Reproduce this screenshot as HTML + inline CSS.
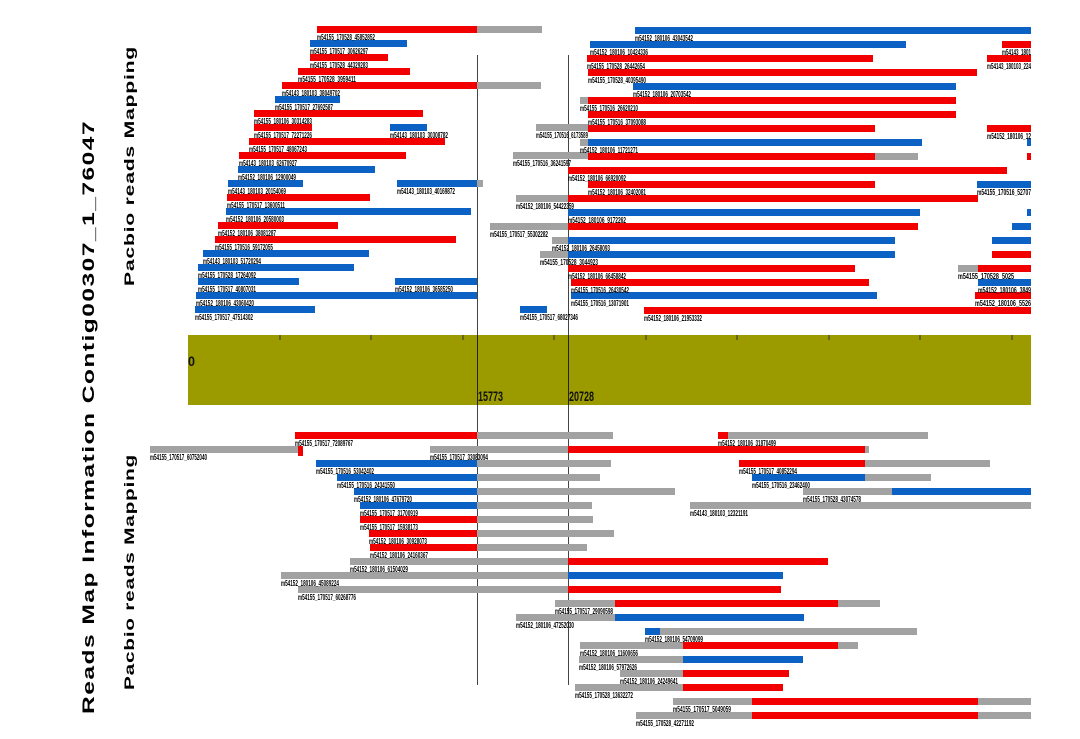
<!DOCTYPE html>
<html><head><meta charset="utf-8"><style>
html,body{margin:0;padding:0;background:#fff;}
svg{display:block}
.r{fill:#f20000}.b{fill:#0b62c4}.g{fill:#a2a2a2}
text.l{font-family:"Liberation Sans",sans-serif;font-size:8px;font-weight:bold;fill:#000}
</style></head><body>
<svg width="1080" height="739" viewBox="0 0 1080 739" xmlns="http://www.w3.org/2000/svg">
<text transform="translate(94,417) rotate(-90)" text-anchor="middle" font-family="Liberation Sans,sans-serif" font-weight="bold" font-size="17" letter-spacing="1" textLength="594" lengthAdjust="spacingAndGlyphs">Reads Map Information Contig00307_1_76047</text>
<text transform="translate(134,166) rotate(-90)" text-anchor="middle" font-family="Liberation Sans,sans-serif" font-weight="bold" font-size="14" letter-spacing="0.5" textLength="240" lengthAdjust="spacingAndGlyphs">Pacbio reads Mapping</text>
<text transform="translate(134,572) rotate(-90)" text-anchor="middle" font-family="Liberation Sans,sans-serif" font-weight="bold" font-size="14" letter-spacing="0.5" textLength="236" lengthAdjust="spacingAndGlyphs">Pacbio reads Mapping</text>

<line x1="477.5" y1="55" x2="477.5" y2="685" stroke="#444" stroke-width="1"/>
<line x1="568.5" y1="55" x2="568.5" y2="685" stroke="#444" stroke-width="1"/>

<rect x="188" y="335" width="843" height="70" fill="#9b9b00"/>
<g stroke="#333" stroke-width="1">
<line x1="280" y1="335" x2="280" y2="340"/><line x1="371" y1="335" x2="371" y2="340"/><line x1="463" y1="335" x2="463" y2="340"/><line x1="554" y1="335" x2="554" y2="340"/><line x1="646" y1="335" x2="646" y2="340"/><line x1="737" y1="335" x2="737" y2="340"/><line x1="829" y1="335" x2="829" y2="340"/><line x1="920" y1="335" x2="920" y2="340"/><line x1="1012" y1="335" x2="1012" y2="340"/>
</g>
<line x1="477.5" y1="335" x2="477.5" y2="405" stroke="#222"/>
<line x1="568.5" y1="335" x2="568.5" y2="405" stroke="#222"/>
<g font-family="Liberation Sans,sans-serif" font-weight="bold" font-size="14" fill="#111">
<text x="188" y="366" textLength="7" lengthAdjust="spacingAndGlyphs">0</text>
<text x="478" y="401" textLength="25" lengthAdjust="spacingAndGlyphs">15773</text>
<text x="569" y="401" textLength="25" lengthAdjust="spacingAndGlyphs">20728</text>
</g>

<g>
<rect class="r" x="317" y="26" width="160" height="7"/><rect class="g" x="477" y="26" width="65" height="7"/>
<rect class="b" x="635" y="27" width="396" height="7"/>
<rect class="b" x="310" y="40" width="97" height="7"/>
<rect class="b" x="590" y="41" width="316" height="7"/><rect class="r" x="1002" y="41" width="29" height="7"/>
<rect class="r" x="310" y="54" width="78" height="7"/>
<rect class="r" x="587" y="55" width="286" height="7"/><rect class="r" x="987" y="55" width="44" height="7"/>
<rect class="r" x="298" y="68" width="112" height="7"/>
<rect class="r" x="588" y="69" width="389" height="7"/>
<rect class="r" x="282" y="82" width="195" height="7"/><rect class="g" x="477" y="82" width="64" height="7"/>
<rect class="b" x="633" y="83" width="323" height="7"/>
<rect class="b" x="275" y="96" width="65" height="7"/>
<rect class="g" x="580" y="97" width="8" height="7"/><rect class="r" x="588" y="97" width="368" height="7"/>
<rect class="r" x="254" y="110" width="169" height="7"/>
<rect class="r" x="588" y="111" width="368" height="7"/>
<rect class="r" x="254" y="124" width="58" height="7"/><rect class="b" x="390" y="124" width="37" height="7"/>
<rect class="g" x="536" y="124" width="52" height="7"/><rect class="r" x="588" y="125" width="287" height="7"/><rect class="r" x="987" y="125" width="44" height="7"/>
<rect class="r" x="249" y="138" width="196" height="7"/>
<rect class="g" x="580" y="139" width="8" height="7"/><rect class="b" x="588" y="139" width="334" height="7"/><rect class="b" x="1027" y="139" width="4" height="7"/>
<rect class="r" x="239" y="152" width="167" height="7"/>
<rect class="g" x="513" y="152" width="75" height="7"/><rect class="r" x="588" y="153" width="287" height="7"/><rect class="g" x="875" y="153" width="43" height="7"/><rect class="r" x="1027" y="153" width="4" height="7"/>
<rect class="b" x="238" y="166" width="137" height="7"/>
<rect class="r" x="568" y="167" width="439" height="7"/>
<rect class="b" x="228" y="180" width="75" height="7"/><rect class="b" x="397" y="180" width="80" height="7"/><rect class="g" x="477" y="180" width="6" height="7"/>
<rect class="r" x="588" y="181" width="287" height="7"/><rect class="b" x="977" y="181" width="54" height="7"/>
<rect class="r" x="227" y="194" width="143" height="7"/>
<rect class="g" x="516" y="195" width="52" height="7"/><rect class="r" x="568" y="195" width="410" height="7"/>
<rect class="b" x="226" y="208" width="245" height="7"/>
<rect class="b" x="568" y="209" width="352" height="7"/><rect class="b" x="1027" y="209" width="4" height="7"/>
<rect class="r" x="218" y="222" width="120" height="7"/>
<rect class="g" x="490" y="223" width="78" height="7"/><rect class="r" x="568" y="223" width="350" height="7"/><rect class="b" x="1012" y="223" width="19" height="7"/>
<rect class="r" x="215" y="236" width="241" height="7"/>
<rect class="g" x="552" y="237" width="16" height="7"/><rect class="b" x="568" y="237" width="327" height="7"/><rect class="b" x="992" y="237" width="39" height="7"/>
<rect class="b" x="203" y="250" width="166" height="7"/>
<rect class="g" x="540" y="251" width="28" height="7"/><rect class="b" x="568" y="251" width="327" height="7"/><rect class="r" x="992" y="251" width="39" height="7"/>
<rect class="b" x="198" y="264" width="156" height="7"/>
<rect class="r" x="568" y="265" width="287" height="7"/><rect class="g" x="958" y="265" width="20" height="7"/><rect class="r" x="978" y="265" width="53" height="7"/>
<rect class="b" x="198" y="278" width="101" height="7"/><rect class="b" x="395" y="278" width="82" height="7"/>
<rect class="r" x="571" y="279" width="298" height="7"/><rect class="b" x="978" y="279" width="53" height="7"/>
<rect class="b" x="196" y="292" width="281" height="7"/>
<rect class="b" x="571" y="292" width="306" height="7"/><rect class="r" x="975" y="292" width="56" height="7"/>
<rect class="b" x="195" y="306" width="120" height="7"/><rect class="b" x="520" y="306" width="27" height="7"/>
<rect class="r" x="644" y="307" width="387" height="7"/>
</g>

<g>
<text class="l" x="317" y="40" textLength="58" lengthAdjust="spacingAndGlyphs">m54155_170528_45852852</text>
<text class="l" x="635" y="41" textLength="58" lengthAdjust="spacingAndGlyphs">m54152_180106_43043542</text>
<text class="l" x="310" y="54" textLength="58" lengthAdjust="spacingAndGlyphs">m54155_170517_30626297</text>
<text class="l" x="590" y="55" textLength="58" lengthAdjust="spacingAndGlyphs">m54152_180106_10424336</text>
<text class="l" x="1002" y="55" textLength="29" lengthAdjust="spacingAndGlyphs">m54143_1801</text>
<text class="l" x="310" y="68" textLength="58" lengthAdjust="spacingAndGlyphs">m54155_170528_44329283</text>
<text class="l" x="587" y="69" textLength="58" lengthAdjust="spacingAndGlyphs">m54155_170528_26442654</text>
<text class="l" x="987" y="69" textLength="44" lengthAdjust="spacingAndGlyphs">m54143_180103_224</text>
<text class="l" x="298" y="82" textLength="58" lengthAdjust="spacingAndGlyphs">m54155_170528_3959411</text>
<text class="l" x="588" y="83" textLength="58" lengthAdjust="spacingAndGlyphs">m54155_170528_40395490</text>
<text class="l" x="282" y="96" textLength="58" lengthAdjust="spacingAndGlyphs">m54143_180103_38049702</text>
<text class="l" x="633" y="97" textLength="58" lengthAdjust="spacingAndGlyphs">m54152_180106_20703542</text>
<text class="l" x="275" y="110" textLength="58" lengthAdjust="spacingAndGlyphs">m54155_170517_27692587</text>
<text class="l" x="580" y="111" textLength="58" lengthAdjust="spacingAndGlyphs">m54155_170516_26620210</text>
<text class="l" x="254" y="124" textLength="58" lengthAdjust="spacingAndGlyphs">m54155_180106_30314283</text>
<text class="l" x="588" y="125" textLength="58" lengthAdjust="spacingAndGlyphs">m54155_170516_37093088</text>
<text class="l" x="254" y="138" textLength="58" lengthAdjust="spacingAndGlyphs">m54155_170517_72271226</text>
<text class="l" x="390" y="138" textLength="58" lengthAdjust="spacingAndGlyphs">m54143_180103_30308782</text>
<text class="l" x="536" y="138" textLength="52" lengthAdjust="spacingAndGlyphs">m54155_170516_6173589</text>
<text class="l" x="987" y="139" textLength="44" lengthAdjust="spacingAndGlyphs">m54152_180106_12</text>
<text class="l" x="249" y="152" textLength="58" lengthAdjust="spacingAndGlyphs">m54155_170517_48067243</text>
<text class="l" x="580" y="153" textLength="58" lengthAdjust="spacingAndGlyphs">m54152_180106_11721271</text>
<text class="l" x="239" y="166" textLength="58" lengthAdjust="spacingAndGlyphs">m54143_180103_62670927</text>
<text class="l" x="513" y="166" textLength="58" lengthAdjust="spacingAndGlyphs">m54155_170516_36241597</text>
<text class="l" x="238" y="180" textLength="58" lengthAdjust="spacingAndGlyphs">m54152_180106_12900049</text>
<text class="l" x="568" y="181" textLength="58" lengthAdjust="spacingAndGlyphs">m54152_180106_66920092</text>
<text class="l" x="228" y="194" textLength="58" lengthAdjust="spacingAndGlyphs">m54143_180103_20154069</text>
<text class="l" x="397" y="194" textLength="58" lengthAdjust="spacingAndGlyphs">m54143_180103_40169872</text>
<text class="l" x="588" y="195" textLength="58" lengthAdjust="spacingAndGlyphs">m54152_180106_32402081</text>
<text class="l" x="977" y="195" textLength="54" lengthAdjust="spacingAndGlyphs">m54155_170516_52707</text>
<text class="l" x="227" y="208" textLength="58" lengthAdjust="spacingAndGlyphs">m54155_170517_13600511</text>
<text class="l" x="516" y="209" textLength="58" lengthAdjust="spacingAndGlyphs">m54152_180106_54422359</text>
<text class="l" x="226" y="222" textLength="58" lengthAdjust="spacingAndGlyphs">m54152_180106_20580003</text>
<text class="l" x="568" y="223" textLength="58" lengthAdjust="spacingAndGlyphs">m54152_180106_9172262</text>
<text class="l" x="218" y="236" textLength="58" lengthAdjust="spacingAndGlyphs">m54152_180106_38081287</text>
<text class="l" x="490" y="237" textLength="58" lengthAdjust="spacingAndGlyphs">m54155_170517_55302282</text>
<text class="l" x="215" y="250" textLength="58" lengthAdjust="spacingAndGlyphs">m54155_170516_59172055</text>
<text class="l" x="552" y="251" textLength="58" lengthAdjust="spacingAndGlyphs">m54152_180106_26458093</text>
<text class="l" x="203" y="264" textLength="58" lengthAdjust="spacingAndGlyphs">m54143_180103_51720294</text>
<text class="l" x="540" y="265" textLength="58" lengthAdjust="spacingAndGlyphs">m54155_170528_3044923</text>
<text class="l" x="198" y="278" textLength="58" lengthAdjust="spacingAndGlyphs">m54155_170528_17264092</text>
<text class="l" x="568" y="279" textLength="58" lengthAdjust="spacingAndGlyphs">m54152_180106_66458842</text>
<text class="l" x="958" y="279" textLength="56" lengthAdjust="spacingAndGlyphs">m54155_170528_5025</text>
<text class="l" x="198" y="292" textLength="58" lengthAdjust="spacingAndGlyphs">m54155_170517_40807031</text>
<text class="l" x="395" y="292" textLength="58" lengthAdjust="spacingAndGlyphs">m54152_180106_36585250</text>
<text class="l" x="571" y="293" textLength="58" lengthAdjust="spacingAndGlyphs">m54155_170516_26430542</text>
<text class="l" x="978" y="293" textLength="53" lengthAdjust="spacingAndGlyphs">m54152_180106_3849</text>
<text class="l" x="196" y="306" textLength="58" lengthAdjust="spacingAndGlyphs">m54152_180106_43060420</text>
<text class="l" x="571" y="306" textLength="58" lengthAdjust="spacingAndGlyphs">m54155_170516_13071901</text>
<text class="l" x="975" y="306" textLength="56" lengthAdjust="spacingAndGlyphs">m54152_180106_5526</text>
<text class="l" x="195" y="320" textLength="58" lengthAdjust="spacingAndGlyphs">m54155_170517_47514302</text>
<text class="l" x="520" y="320" textLength="58" lengthAdjust="spacingAndGlyphs">m54155_170517_68027346</text>
<text class="l" x="644" y="321" textLength="58" lengthAdjust="spacingAndGlyphs">m54152_180106_21953332</text>
</g>

<g>
<rect class="r" x="295" y="432" width="182" height="7"/><rect class="g" x="477" y="432" width="136" height="7"/>
<rect class="r" x="718" y="432" width="10" height="7"/><rect class="g" x="728" y="432" width="200" height="7"/>
<rect class="g" x="150" y="446" width="150" height="7"/><rect class="r" x="298" y="446" width="5" height="10"/>
<rect class="g" x="430" y="446" width="138" height="7"/><rect class="r" x="568" y="446" width="297" height="7"/><rect class="g" x="865" y="446" width="4" height="7"/>
<rect class="b" x="316" y="460" width="161" height="7"/><rect class="g" x="477" y="460" width="134" height="7"/>
<rect class="r" x="739" y="460" width="126" height="7"/><rect class="g" x="865" y="460" width="125" height="7"/>
<rect class="b" x="337" y="474" width="140" height="7"/><rect class="g" x="477" y="474" width="123" height="7"/>
<rect class="b" x="752" y="474" width="113" height="7"/><rect class="g" x="865" y="474" width="66" height="7"/>
<rect class="b" x="354" y="488" width="123" height="7"/><rect class="g" x="477" y="488" width="198" height="7"/>
<rect class="g" x="803" y="488" width="89" height="7"/><rect class="b" x="892" y="488" width="139" height="7"/>
<rect class="b" x="360" y="502" width="117" height="7"/><rect class="g" x="477" y="502" width="115" height="7"/>
<rect class="g" x="690" y="502" width="341" height="7"/>
<rect class="r" x="360" y="516" width="117" height="7"/><rect class="g" x="477" y="516" width="116" height="7"/>
<rect class="r" x="369" y="530" width="108" height="7"/><rect class="g" x="477" y="530" width="137" height="7"/>
<rect class="r" x="370" y="544" width="107" height="7"/><rect class="g" x="477" y="544" width="110" height="7"/>
<rect class="g" x="350" y="558" width="218" height="7"/><rect class="r" x="568" y="558" width="260" height="7"/>
<rect class="g" x="281" y="572" width="287" height="7"/><rect class="b" x="568" y="572" width="215" height="7"/>
<rect class="g" x="298" y="586" width="270" height="7"/><rect class="r" x="568" y="586" width="213" height="7"/>
<rect class="g" x="555" y="600" width="60" height="7"/><rect class="r" x="615" y="600" width="223" height="7"/><rect class="g" x="838" y="600" width="42" height="7"/>
<rect class="g" x="516" y="614" width="99" height="7"/><rect class="b" x="615" y="614" width="189" height="7"/>
<rect class="b" x="645" y="628" width="15" height="7"/><rect class="g" x="660" y="628" width="257" height="7"/>
<rect class="g" x="580" y="642" width="103" height="7"/><rect class="r" x="683" y="642" width="155" height="7"/><rect class="g" x="838" y="642" width="20" height="7"/>
<rect class="g" x="579" y="656" width="104" height="7"/><rect class="b" x="683" y="656" width="120" height="7"/>
<rect class="g" x="620" y="670" width="63" height="7"/><rect class="r" x="683" y="670" width="106" height="7"/>
<rect class="g" x="575" y="684" width="108" height="7"/><rect class="r" x="683" y="684" width="100" height="7"/>
<rect class="g" x="673" y="698" width="79" height="7"/><rect class="r" x="752" y="698" width="226" height="7"/><rect class="g" x="978" y="698" width="53" height="7"/>
<rect class="g" x="636" y="712" width="116" height="7"/><rect class="r" x="752" y="712" width="226" height="7"/><rect class="g" x="978" y="712" width="53" height="7"/>
</g>

<g>
<text class="l" x="295" y="446" textLength="58" lengthAdjust="spacingAndGlyphs">m54155_170517_72089767</text>
<text class="l" x="718" y="446" textLength="58" lengthAdjust="spacingAndGlyphs">m54152_180106_31870499</text>
<text class="l" x="150" y="460" textLength="57" lengthAdjust="spacingAndGlyphs">m54155_170517_60752040</text>
<text class="l" x="430" y="460" textLength="58" lengthAdjust="spacingAndGlyphs">m54155_170517_33083094</text>
<text class="l" x="316" y="474" textLength="58" lengthAdjust="spacingAndGlyphs">m54155_170516_53042402</text>
<text class="l" x="739" y="474" textLength="58" lengthAdjust="spacingAndGlyphs">m54155_170517_40852294</text>
<text class="l" x="337" y="488" textLength="58" lengthAdjust="spacingAndGlyphs">m54155_170516_24341550</text>
<text class="l" x="752" y="488" textLength="58" lengthAdjust="spacingAndGlyphs">m54155_170516_23462400</text>
<text class="l" x="354" y="502" textLength="58" lengthAdjust="spacingAndGlyphs">m54152_180106_47679720</text>
<text class="l" x="803" y="502" textLength="58" lengthAdjust="spacingAndGlyphs">m54155_170528_43074578</text>
<text class="l" x="360" y="516" textLength="58" lengthAdjust="spacingAndGlyphs">m54155_170517_31700919</text>
<text class="l" x="690" y="516" textLength="58" lengthAdjust="spacingAndGlyphs">m54143_180103_12321191</text>
<text class="l" x="360" y="530" textLength="58" lengthAdjust="spacingAndGlyphs">m54155_170517_15938173</text>
<text class="l" x="369" y="544" textLength="58" lengthAdjust="spacingAndGlyphs">m54152_180106_30928073</text>
<text class="l" x="370" y="558" textLength="58" lengthAdjust="spacingAndGlyphs">m54152_180106_24160367</text>
<text class="l" x="350" y="572" textLength="58" lengthAdjust="spacingAndGlyphs">m54152_180106_61504029</text>
<text class="l" x="281" y="586" textLength="58" lengthAdjust="spacingAndGlyphs">m54152_180106_45089224</text>
<text class="l" x="298" y="600" textLength="58" lengthAdjust="spacingAndGlyphs">m54155_170517_60268776</text>
<text class="l" x="555" y="614" textLength="58" lengthAdjust="spacingAndGlyphs">m54155_170517_29090598</text>
<text class="l" x="516" y="628" textLength="58" lengthAdjust="spacingAndGlyphs">m54152_180106_47252030</text>
<text class="l" x="645" y="642" textLength="58" lengthAdjust="spacingAndGlyphs">m54152_180106_54709099</text>
<text class="l" x="580" y="656" textLength="58" lengthAdjust="spacingAndGlyphs">m54152_180106_11600656</text>
<text class="l" x="579" y="670" textLength="58" lengthAdjust="spacingAndGlyphs">m54152_180106_57972626</text>
<text class="l" x="620" y="684" textLength="58" lengthAdjust="spacingAndGlyphs">m54152_180106_24249641</text>
<text class="l" x="575" y="698" textLength="58" lengthAdjust="spacingAndGlyphs">m54155_170528_13632272</text>
<text class="l" x="673" y="712" textLength="58" lengthAdjust="spacingAndGlyphs">m54155_170517_5049059</text>
<text class="l" x="636" y="726" textLength="58" lengthAdjust="spacingAndGlyphs">m54155_170528_42271192</text>
</g>
</svg>
</body></html>
